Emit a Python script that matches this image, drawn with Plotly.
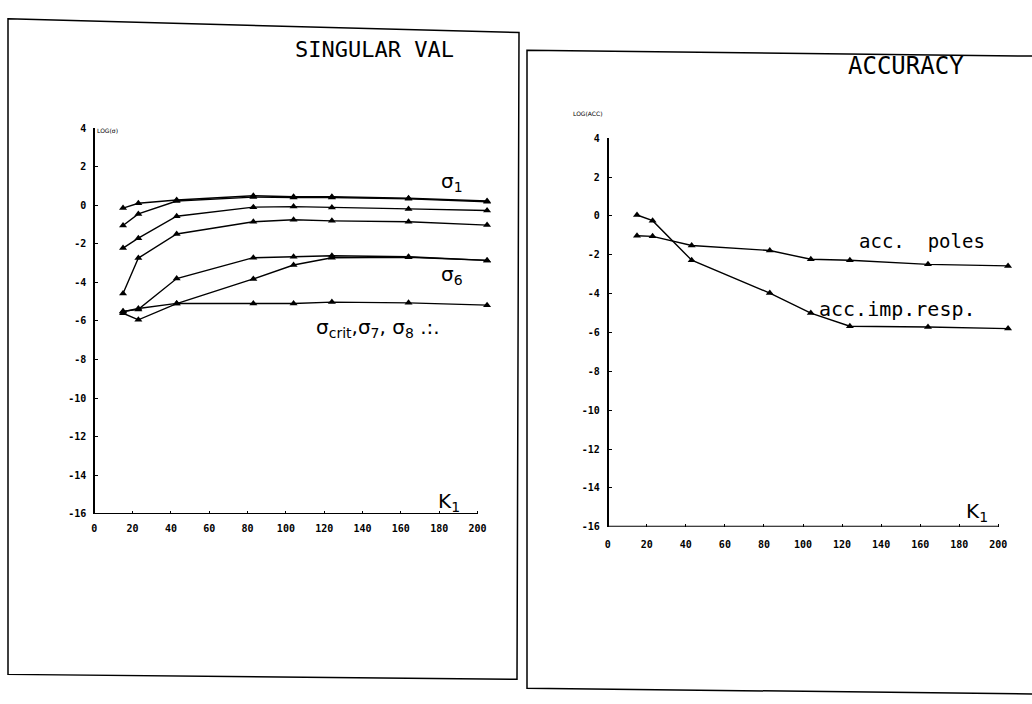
import plotly.graph_objects as go

W, H = 1032, 704

# ---------------- data ----------------
K1 = [15, 23, 43, 83, 104, 124, 164, 205]

sigma1 = [-0.15, 0.10, 0.27, 0.49, 0.44, 0.44, 0.36, 0.22]
sigma2 = [-1.05, -0.45, 0.22, 0.42, 0.40, 0.40, 0.33, 0.18]
sigma3 = [-2.22, -1.71, -0.57, -0.10, -0.07, -0.12, -0.19, -0.27]
sigma4 = [-4.58, -2.74, -1.49, -0.86, -0.75, -0.81, -0.86, -1.03]
sigma5 = [-5.50, -5.40, -3.80, -2.72, -2.67, -2.62, -2.67, -2.86]
sigma6 = [-5.60, -5.94, -5.10, -3.82, -3.10, -2.72, -2.70, -2.86]
sigma_crit = [-5.52, -5.35, -5.09, -5.09, -5.09, -5.02, -5.06, -5.18]

acc_imp_resp = [0.05, -0.24, -2.28, -3.97, -5.00, -5.68, -5.72, -5.80]
acc_poles = [-1.02, -1.05, -1.52, -1.78, -2.23, -2.28, -2.49, -2.57]

x_ticks = [0, 20, 40, 60, 80, 100, 120, 140, 160, 180, 200]
y_ticks = [4, 2, 0, -2, -4, -6, -8, -10, -12, -14, -16]

left_series = [sigma1, sigma2, sigma3, sigma4, sigma5, sigma6, sigma_crit]
right_series = [acc_imp_resp, acc_poles]


def px(x):
    return x / W


def py(y):
    return 1 - y / H


fig = go.Figure()

line_style = dict(color="black", width=1.4)
marker_style = dict(symbol="triangle-up", size=7, color="black")

for s in left_series:
    fig.add_trace(go.Scatter(x=K1, y=s, mode="lines+markers", line=line_style,
                             marker=marker_style, xaxis="x", yaxis="y",
                             showlegend=False, cliponaxis=False))
for s in right_series:
    fig.add_trace(go.Scatter(x=K1, y=s, mode="lines+markers", line=line_style,
                             marker=marker_style, xaxis="x2", yaxis="y2",
                             showlegend=False, cliponaxis=False))

tickfont = dict(family="DejaVu Sans Mono", size=10, color="black", weight="bold")

lx0, lsc = 94.3, 1.916
rx0, rsc = 607.7, 1.953

common_x = dict(range=[-2, 208], tickvals=x_ticks, ticktext=[str(v) for v in x_ticks],
                showline=False, showgrid=False, zeroline=False, ticks="inside",
                ticklen=3, tickcolor="black", tickfont=tickfont)
common_y = dict(range=[-16, 4], tickvals=y_ticks, ticktext=[str(v) for v in y_ticks],
                showline=True, linecolor="black", linewidth=2, showgrid=False,
                zeroline=False, ticks="inside", ticklen=3, tickcolor="black",
                tickfont=tickfont, anchor="free", ticklabelstandoff=5)

fig.update_layout(
    width=W, height=H,
    margin=dict(l=0, r=0, t=0, b=0),
    paper_bgcolor="white", plot_bgcolor="rgba(0,0,0,0)",
    xaxis=dict(domain=[px(lx0 - 2 * lsc), px(lx0 + 208 * lsc)], anchor="y",
               ticklabelstandoff=7, **common_x),
    yaxis=dict(domain=[py(517), py(125)], position=px(lx0), **common_y),
    xaxis2=dict(domain=[px(rx0 - 2 * rsc), px(rx0 + 208 * rsc)], anchor="y2",
                ticklabelstandoff=10, **common_x),
    yaxis2=dict(domain=[py(530), py(135.4)], position=px(rx0), **common_y),
)

shapes = []
for xr, yr in (("x", "y"), ("x2", "y2")):
    shapes.append(dict(type="line", xref=xr, yref=yr, x0=0, x1=200, y0=-16, y1=-16,
                       line=dict(color="black", width=2)))


def frame(pts):
    d = "M " + " L ".join(f"{px(a)},{py(b)}" for a, b in pts) + " Z"
    return dict(type="path", xref="paper", yref="paper", path=d,
                line=dict(color="black", width=1.5), fillcolor="rgba(0,0,0,0)")


shapes.append(frame([(8, 14), (519, 28), (517, 685), (8, 680)]))
shapes.append(frame([(527, 46), (1040, 52), (1040, 700), (527, 694)]))
fig.update_layout(shapes=shapes)

sig_font = dict(family="DejaVu Sans", size=20, color="black")
mono = "DejaVu Sans Mono"
anns = [
    dict(x=px(374), y=py(45), text="SINGULAR VAL", font=dict(family=mono, size=22, color="black")),
    dict(x=px(906), y=py(62), text="ACCURACY", font=dict(family=mono, size=24, color="black")),
    dict(x=px(107), y=py(127), text="LOG(σ)", font=dict(family="DejaVu Sans", size=6, color="black")),
    dict(x=px(588), y=py(110), text="LOG(ACC)", font=dict(family="DejaVu Sans", size=6, color="black")),
    dict(x=px(452), y=py(180), text="σ<sub>1</sub>", font=sig_font),
    dict(x=px(452), y=py(274), text="σ<sub>6</sub>", font=sig_font),
    dict(x=px(378), y=py(328), text="σ<sub>crit</sub>,σ<sub>7</sub>, σ<sub>8</sub> .:.", font=sig_font),
    dict(x=px(449), y=py(505), text="K<sub>1</sub>", font=sig_font),
    dict(x=px(977), y=py(515), text="K<sub>1</sub>", font=sig_font),
    dict(x=px(922), y=py(240), text="acc.  poles", font=dict(family=mono, size=19, color="black")),
    dict(x=px(897), y=py(309), text="acc.imp.resp.", font=dict(family=mono, size=20, color="black")),
]
for a in anns:
    a.update(xref="paper", yref="paper", showarrow=False, xanchor="center", yanchor="middle")
fig.update_layout(annotations=anns)

fig.write_html("out.html")
